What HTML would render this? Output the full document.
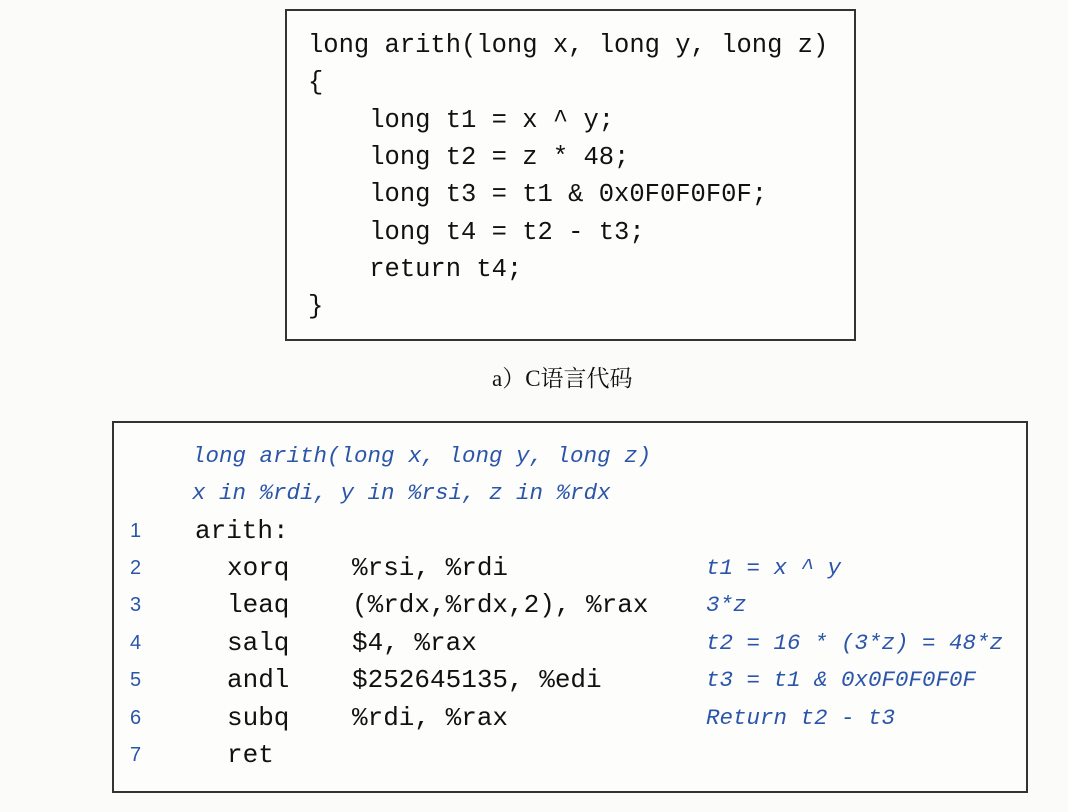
<!DOCTYPE html>
<html><head><meta charset="utf-8"><style>
body{margin:0;width:1068px;height:812px;background:#fbfbf9;position:relative;overflow:hidden}
.box{position:absolute;border:2px solid #333;background:#fdfdfc;box-sizing:border-box}
.t{position:absolute;white-space:pre;font-family:"Liberation Mono",monospace;color:#111;line-height:30px;height:30px}
.c1{font-size:25.5px}
.c2{font-size:26px}
.i{font-style:italic;color:#2b55a8;font-size:22.5px}
.n{font-family:"Liberation Sans",sans-serif;font-size:20px;color:#2b55a8}
</style></head><body>
<div class="box" style="left:285px;top:9px;width:571px;height:332px"></div>
<div class="t c1" style="left:308px;top:31px">long arith(long x, long y, long z)</div>
<div class="t c1" style="left:308px;top:68px">{</div>
<div class="t c1" style="left:308px;top:106px">    long t1 = x ^ y;</div>
<div class="t c1" style="left:308px;top:143px">    long t2 = z * 48;</div>
<div class="t c1" style="left:308px;top:180px">    long t3 = t1 &amp; 0x0F0F0F0F;</div>
<div class="t c1" style="left:308px;top:218px">    long t4 = t2 - t3;</div>
<div class="t c1" style="left:308px;top:255px">    return t4;</div>
<div class="t c1" style="left:308px;top:292px">}</div>
<div class="t" style="left:492px;top:364px;font-family:'Liberation Serif','Noto Serif CJK SC',serif;font-size:23px">a）C语言代码</div>

<div class="box" style="left:112px;top:421px;width:916px;height:372px"></div>
<div class="t i" style="left:192px;top:441px">long arith(long x, long y, long z)</div>
<div class="t i" style="left:192px;top:478px">x in %rdi, y in %rsi, z in %rdx</div>
<div class="t n" style="left:130px;top:516px">1</div>
<div class="t c2" style="left:195px;top:516px">arith:</div>
<div class="t n" style="left:130px;top:553px">2</div>
<div class="t c2" style="left:227px;top:553px">xorq</div><div class="t c2" style="left:352px;top:553px">%rsi, %rdi</div><div class="t i" style="left:706px;top:553px">t1 = x ^ y</div>
<div class="t n" style="left:130px;top:590px">3</div>
<div class="t c2" style="left:227px;top:590px">leaq</div><div class="t c2" style="left:352px;top:590px">(%rdx,%rdx,2), %rax</div><div class="t i" style="left:706px;top:590px">3*z</div>
<div class="t n" style="left:130px;top:628px">4</div>
<div class="t c2" style="left:227px;top:628px">salq</div><div class="t c2" style="left:352px;top:628px">$4, %rax</div><div class="t i" style="left:706px;top:628px">t2 = 16 * (3*z) = 48*z</div>
<div class="t n" style="left:130px;top:665px">5</div>
<div class="t c2" style="left:227px;top:665px">andl</div><div class="t c2" style="left:352px;top:665px">$252645135, %edi</div><div class="t i" style="left:706px;top:665px">t3 = t1 &amp; 0x0F0F0F0F</div>
<div class="t n" style="left:130px;top:703px">6</div>
<div class="t c2" style="left:227px;top:703px">subq</div><div class="t c2" style="left:352px;top:703px">%rdi, %rax</div><div class="t i" style="left:706px;top:703px">Return t2 - t3</div>
<div class="t n" style="left:130px;top:740px">7</div>
<div class="t c2" style="left:227px;top:740px">ret</div>
</body></html>
